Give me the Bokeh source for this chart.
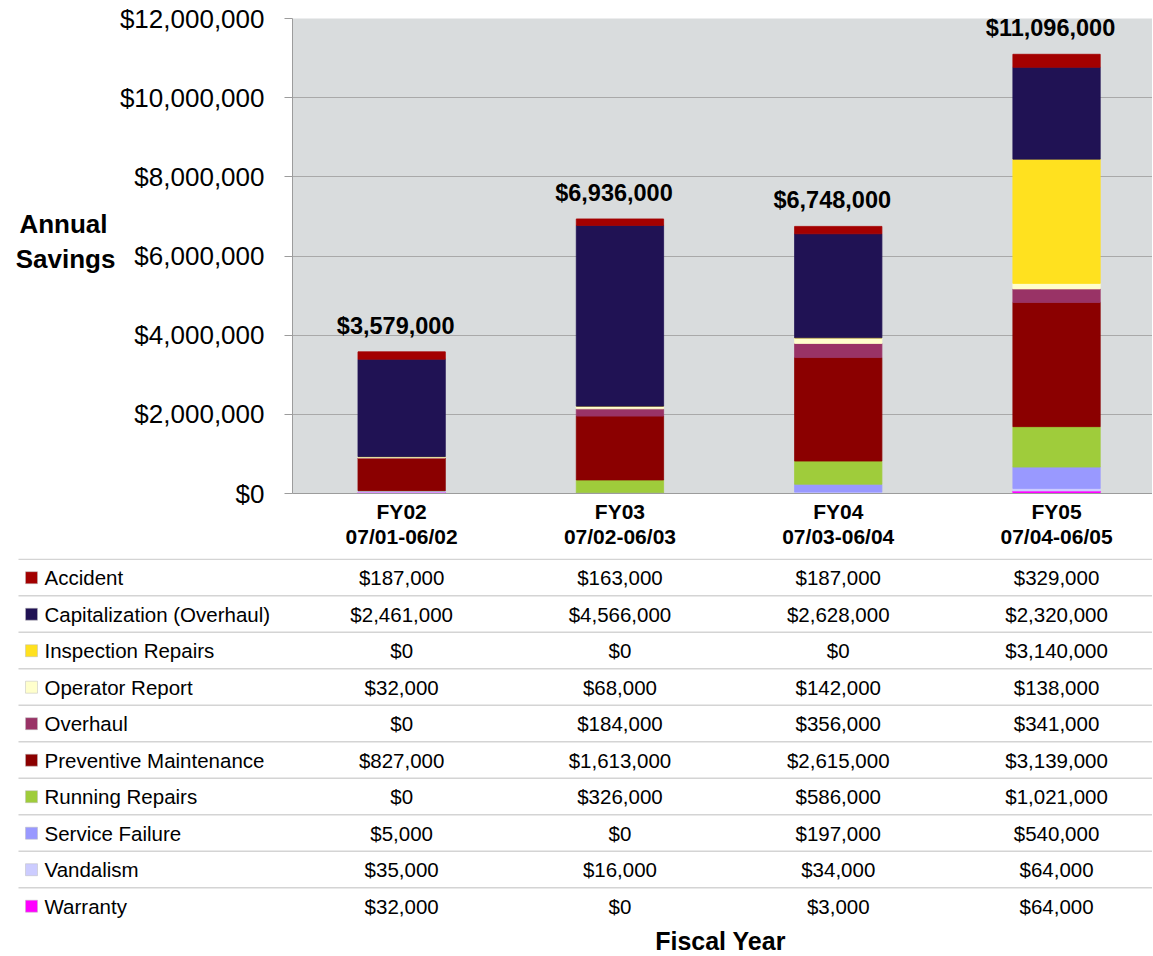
from bokeh.plotting import figure
from bokeh.layouts import column, row
from bokeh.models import Range1d, ColumnDataSource, NumeralTickFormatter, FixedTicker
from bokeh.core.properties import value
from bokeh.embed import file_html
from bokeh.resources import INLINE

# ---------------- data ----------------
years = ["FY02", "FY03", "FY04", "FY05"]
periods = ["07/01-06/02", "07/02-06/03", "07/03-06/04", "07/04-06/05"]

series_names = ["Accident", "Capitalization (Overhaul)", "Inspection Repairs", "Operator Report",
                "Overhaul", "Preventive Maintenance", "Running Repairs", "Service Failure",
                "Vandalism", "Warranty"]
accident = [187000, 163000, 187000, 329000]
capitalization = [2461000, 4566000, 2628000, 2320000]
inspection = [0, 0, 0, 3140000]
operator = [32000, 68000, 142000, 138000]
overhaul = [0, 184000, 356000, 341000]
preventive = [827000, 1613000, 2615000, 3139000]
running = [0, 326000, 586000, 1021000]
service = [5000, 0, 197000, 540000]
vandalism = [35000, 16000, 34000, 64000]
warranty = [32000, 0, 3000, 64000]
series_values = [accident, capitalization, inspection, operator, overhaul,
                 preventive, running, service, vandalism, warranty]
series_colors = ["#a30000", "#201254", "#ffe11f", "#ffffcc", "#993366",
                 "#8b0000", "#9fcc3b", "#9999ff", "#ccccff", "#ff00ff"]
y_ticks = [0, 2000000, 4000000, 6000000, 8000000, 10000000, 12000000]
y_title = ["Annual", "Savings"]
x_title = "Fiscal Year"

FONT = "Liberation Sans"
CAT_PX = 218.3          # pixels per category
FRAME_L = 292           # frame left edge on the page
TOTAL_W = 1152
P0_W = 116
P1_W = TOTAL_W - P0_W
FRAME_W = TOTAL_W - FRAME_L
TOP_H = 558
BOT_H = 397


def no_align(p):
    try:
        p.frame_align = False
    except Exception:
        pass


xs = [i + 0.5 for i in range(len(years))]
totals = [sum(v[i] for v in series_values) for i in range(len(years))]

# ---------------- y title panel ----------------
p0 = figure(width=P0_W, height=TOP_H, title=None,
            x_range=Range1d(0, P0_W), y_range=Range1d(TOP_H, 0),
            x_axis_location=None, y_axis_location=None, min_border=0,
            output_backend="svg", toolbar_location=None, outline_line_color=None)
p0.xgrid.visible = False
p0.ygrid.visible = False
p0.text(x=[63, 65], y=[223, 258], text=y_title, text_align="center", text_baseline="middle",
        text_font=value(FONT), text_font_style="bold", text_font_size=value("26px"),
        text_color="black")
no_align(p0)

# ---------------- chart ----------------
p1 = figure(width=P1_W, height=TOP_H, title=None,
            x_range=Range1d(0, FRAME_W / CAT_PX), y_range=Range1d(0, 12000000),
            output_backend="svg", toolbar_location=None,
            min_border_left=FRAME_L - P0_W, min_border_right=0, min_border_top=18,
            min_border_bottom=TOP_H - 493,
            background_fill_color="#d9dcdd", border_fill_color="white",
            outline_line_color=None)
no_align(p1)

src = {"x": xs}
for n, v in zip(series_names, series_values):
    src[n] = v
source = ColumnDataSource(src)

stack_order = list(reversed(series_names))
stack_colors = list(reversed(series_colors))
p1.vbar_stack(stack_order, x="x", width=0.4, source=source,
              fill_color=stack_colors, line_color=stack_colors, line_width=0.8)

p1.xgrid.visible = False
p1.ygrid.ticker = FixedTicker(ticks=y_ticks)
p1.ygrid.grid_line_color = "#a9a9a9"
p1.ygrid.grid_line_width = 1

ax = p1.yaxis[0]
ax.ticker = FixedTicker(ticks=y_ticks)
ax.formatter = NumeralTickFormatter(format="$0,0")
ax.axis_line_color = "#9c9c9c"
ax.major_tick_line_color = "#9c9c9c"
ax.major_tick_out = 8
ax.major_tick_in = 0
ax.minor_tick_line_color = None
ax.major_label_text_font = FONT
ax.major_label_text_font_size = "26px"
ax.major_label_text_color = "black"
ax.major_label_standoff = 20

xax = p1.xaxis[0]
xax.ticker = FixedTicker(ticks=xs)
xax.major_label_overrides = {x: "{}\n{}".format(y, pr) for x, y, pr in zip(xs, years, periods)}
xax.axis_line_color = "#9c9c9c"
xax.major_tick_line_color = None
xax.minor_tick_line_color = None
xax.major_tick_out = 0
xax.major_tick_in = 0
xax.major_label_standoff = 6
xax.major_label_text_font = FONT
xax.major_label_text_font_style = "bold"
xax.major_label_text_font_size = "21px"
xax.major_label_text_color = "black"
xax.major_label_text_line_height = 1.12

p1.text(x=xs, y=totals, text=["${:,.0f}".format(t) for t in totals],
        text_align="center", text_baseline="middle", x_offset=-6, y_offset=-26,
        text_font=value(FONT), text_font_style="bold", text_font_size=value("23.5px"),
        text_color="black")

# ---------------- table ----------------
p2 = figure(width=TOTAL_W, height=BOT_H, title=None,
            x_range=Range1d(-FRAME_L / CAT_PX, FRAME_W / CAT_PX),
            y_range=Range1d(TOP_H + BOT_H, TOP_H),
            x_axis_location=None, y_axis_location=None, min_border=0,
            output_backend="svg", toolbar_location=None, outline_line_color=None,
            background_fill_color="white", border_fill_color="white")
p2.xgrid.visible = False
p2.ygrid.visible = False
no_align(p2)


def px(ix):
    return (ix - FRAME_L) / CAT_PX


ROW0, ROWH = 558.7, 36.5
line_y = [ROW0 + ROWH * k for k in range(len(series_names))]
p2.segment(x0=[px(18)] * len(line_y), y0=line_y, x1=[FRAME_W / CAT_PX] * len(line_y), y1=line_y,
           line_color="#d4d4d4", line_width=1.5)

row_c = [y + 18.5 for y in line_y]
p2.scatter(x=[px(31)] * len(row_c), y=row_c, marker="square", size=12,
           fill_color=series_colors, line_color="#bdbdbd", line_width=0.5)
p2.text(x=[px(44)] * len(row_c), y=row_c, text=series_names, text_align="left",
        text_baseline="middle", text_font=value(FONT), text_font_size=value("20.5px"),
        text_color="black")

vx, vy, vt = [], [], []
for i, vals in enumerate(series_values):
    for j, v in enumerate(vals):
        vx.append(xs[j])
        vy.append(row_c[i])
        vt.append("${:,.0f}".format(v))
p2.text(x=vx, y=vy, text=vt, text_align="center", text_baseline="middle",
        text_font=value(FONT), text_font_size=value("20.5px"), text_color="black")

p2.text(x=[px(720)], y=[940], text=[x_title], text_align="center", text_baseline="middle",
        text_font=value(FONT), text_font_style="bold", text_font_size=value("25px"))

layout = column(row(p0, p1, spacing=0), p2, spacing=0)
open("out.html", "w").write(file_html(layout, INLINE))
